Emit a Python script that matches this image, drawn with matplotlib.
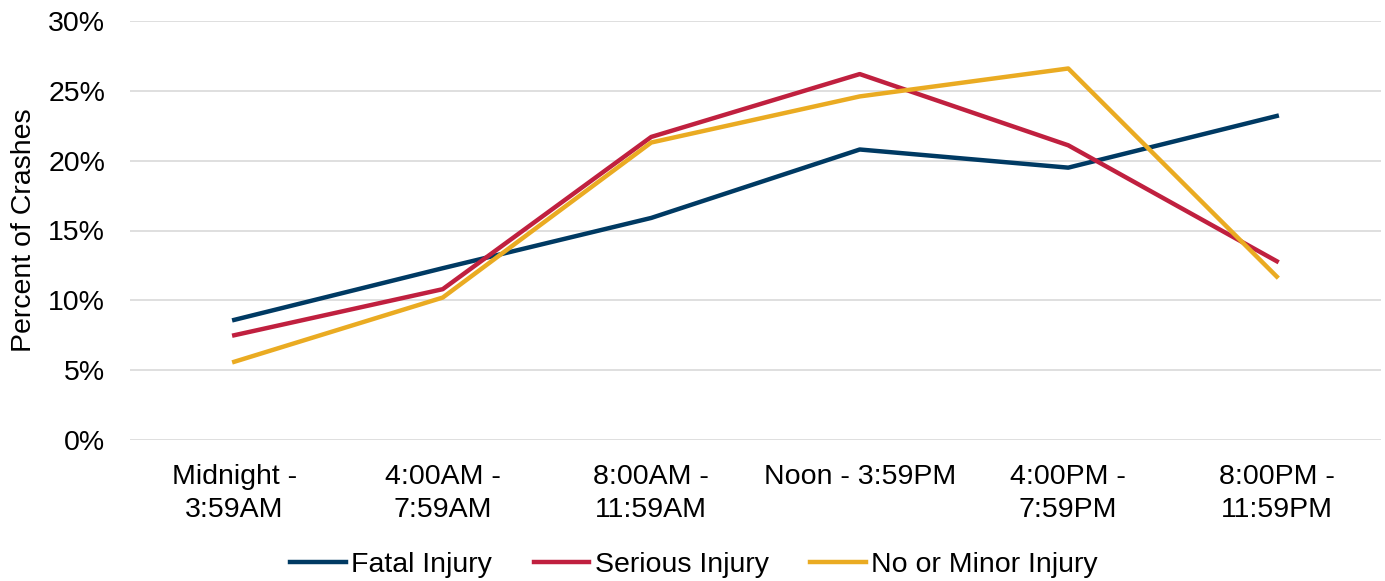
import matplotlib.pyplot as plt

plt.rcParams['font.family'] = ['Liberation Sans', 'DejaVu Sans']

categories = ["Midnight -\n3:59AM", "4:00AM -\n7:59AM", "8:00AM -\n11:59AM",
              "Noon - 3:59PM", "4:00PM -\n7:59PM", "8:00PM -\n11:59PM"]
fatal = [8.6, 12.3, 15.9, 20.8, 19.5, 23.2]
serious = [7.5, 10.8, 21.7, 26.2, 21.1, 12.8]
minor = [5.6, 10.2, 21.3, 24.6, 26.6, 11.7]
y_ticks = [0, 5, 10, 15, 20, 25, 30]

FS = 20.5

fig = plt.figure(figsize=(13.85, 5.81), dpi=100)
ax = fig.add_axes([130 / 1385, 1 - 440 / 581, (1381 - 130) / 1385, (440 - 21) / 581])

x = range(len(categories))
ax.plot(x, fatal, color="#003A63", lw=3.2, label="Fatal Injury", solid_joinstyle="round")
ax.plot(x, serious, color="#C0203F", lw=3.2, label="Serious Injury", solid_joinstyle="round")
ax.plot(x, minor, color="#EAAB22", lw=3.2, label="No or Minor Injury", solid_joinstyle="round")

ax.set_xlim(-0.5, len(categories) - 0.5)
ax.set_ylim(0, 30)
ax.set_yticks(y_ticks)
ax.set_yticklabels([f"{v}%" for v in y_ticks], fontsize=FS)
ax.set_xticks(list(x))
ax.set_xticklabels(categories, fontsize=FS, linespacing=1.36)
ax.tick_params(axis="y", length=0, pad=18)
ax.tick_params(axis="x", length=0, pad=17)
ax.grid(axis="y", color="#D9D9D9", lw=1.2)
ax.set_axisbelow(True)
for s in ax.spines.values():
    s.set_visible(False)
ax.set_ylabel("Percent of Crashes", fontsize=FS, labelpad=8)

fig.legend(*ax.get_legend_handles_labels(), loc="center", bbox_to_anchor=(694 / 1385, 1 - 565 / 581),
           ncol=3, frameon=False, fontsize=FS, handlelength=1.95, columnspacing=1.45,
           handletextpad=0.2, borderaxespad=0, borderpad=0)

fig.savefig("out.png", dpi=100)
